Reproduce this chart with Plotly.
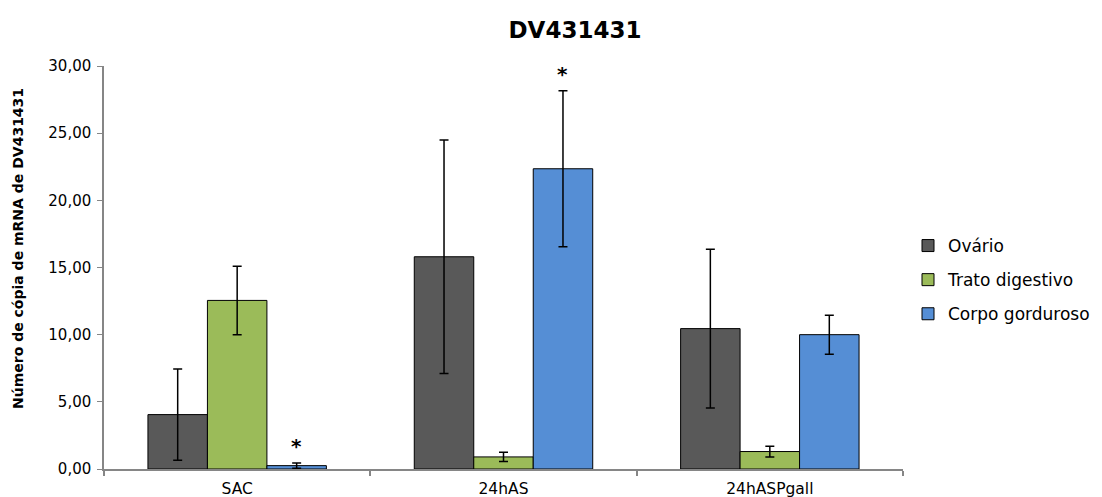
import plotly.graph_objects as go

categories = ["SAC", "24hAS", "24hASPgall"]
series_names = ["Ovário", "Trato digestivo", "Corpo gorduroso"]
ovario = [4.05, 15.8, 10.45]
ovario_err = [3.4, 8.7, 5.9]
trato = [12.55, 0.9, 1.3]
trato_err = [2.55, 0.35, 0.4]
corpo = [0.25, 22.35, 10.0]
corpo_err = [0.2, 5.8, 1.45]
corpo_sig = [True, True, False]
colors = ["#595959", "#9BBB59", "#558ED5"]
ytick_vals = [0, 5, 10, 15, 20, 25, 30]
ytick_text = ["0,00", "5,00", "10,00", "15,00", "20,00", "25,00", "30,00"]

W, H = 1102, 497
ml, mr, mt, mb = 104, 199, 66, 28
bargap = 0.33
FONT = "DejaVu Sans"

fig = go.Figure()
for name, vals, errs, col in zip(series_names, [ovario, trato, corpo],
                                 [ovario_err, trato_err, corpo_err], colors):
    fig.add_trace(go.Bar(
        x=categories, y=vals, name=name, legendgroup=name,
        marker=dict(color=col, line=dict(color="black", width=1)),
        error_y=dict(type="data", array=errs, visible=True,
                     color="black", thickness=1.5, width=4.5),
    ))

# significance stars above the blue bars
plot_w = W - ml - mr
plot_h = H - mt - mb
cat_w = plot_w / len(categories)
bar_w = cat_w * (1 - bargap) / 3
for cat, v, e, s in zip(categories, corpo, corpo_err, corpo_sig):
    if s:
        fig.add_annotation(x=cat, y=v + e, xref="x", yref="y",
                           text="<b>*</b>", showarrow=False,
                           xshift=bar_w, yshift=17,
                           font=dict(size=20, color="black", family=FONT))

fig.add_annotation(xref="paper", yref="paper",
                   x=-(ml - 18) / plot_w, y=(H - mb - 249) / plot_h,
                   text="<b>Número de cópia de mRNA de DV431431</b>",
                   textangle=-90, showarrow=False,
                   xanchor="center", yanchor="middle",
                   font=dict(size=14, color="black", family=FONT))

fig.update_layout(
    width=W, height=H,
    margin=dict(l=ml, r=mr, t=mt, b=mb),
    paper_bgcolor="white", plot_bgcolor="white",
    barmode="group", bargap=bargap, bargroupgap=0,
    font=dict(family=FONT, color="black", size=14),
    title=dict(text="<b>DV431431</b>", x=575 / W, xanchor="center",
               y=1 - 30 / H, yanchor="middle",
               font=dict(size=23, family=FONT, color="black")),
    legend=dict(xref="container", yref="container",
                x=908 / W, y=1 - 228 / H, xanchor="left", yanchor="top",
                font=dict(size=17, family=FONT, color="black"),
                bgcolor="rgba(0,0,0,0)", tracegroupgap=9,
                traceorder="grouped", itemwidth=30),
    showlegend=True,
)
fig.update_xaxes(showline=True, linecolor="#868686", linewidth=2,
                 ticks="outside", tickson="boundaries", ticklen=5,
                 tickcolor="#868686", tickwidth=2, automargin=False,
                 ticklabelstandoff=4,
                 tickfont=dict(size=15.5, family=FONT, color="black"))
fig.update_yaxes(range=[0, 30], tickvals=ytick_vals, ticktext=ytick_text,
                 showline=True, linecolor="#868686", linewidth=1.5,
                 ticks="outside", ticklen=5, tickcolor="#868686",
                 showgrid=False, zeroline=False, automargin=False,
                 ticklabelstandoff=3,
                 tickfont=dict(size=15, family=FONT, color="black"))

fig.write_html("out.html")
